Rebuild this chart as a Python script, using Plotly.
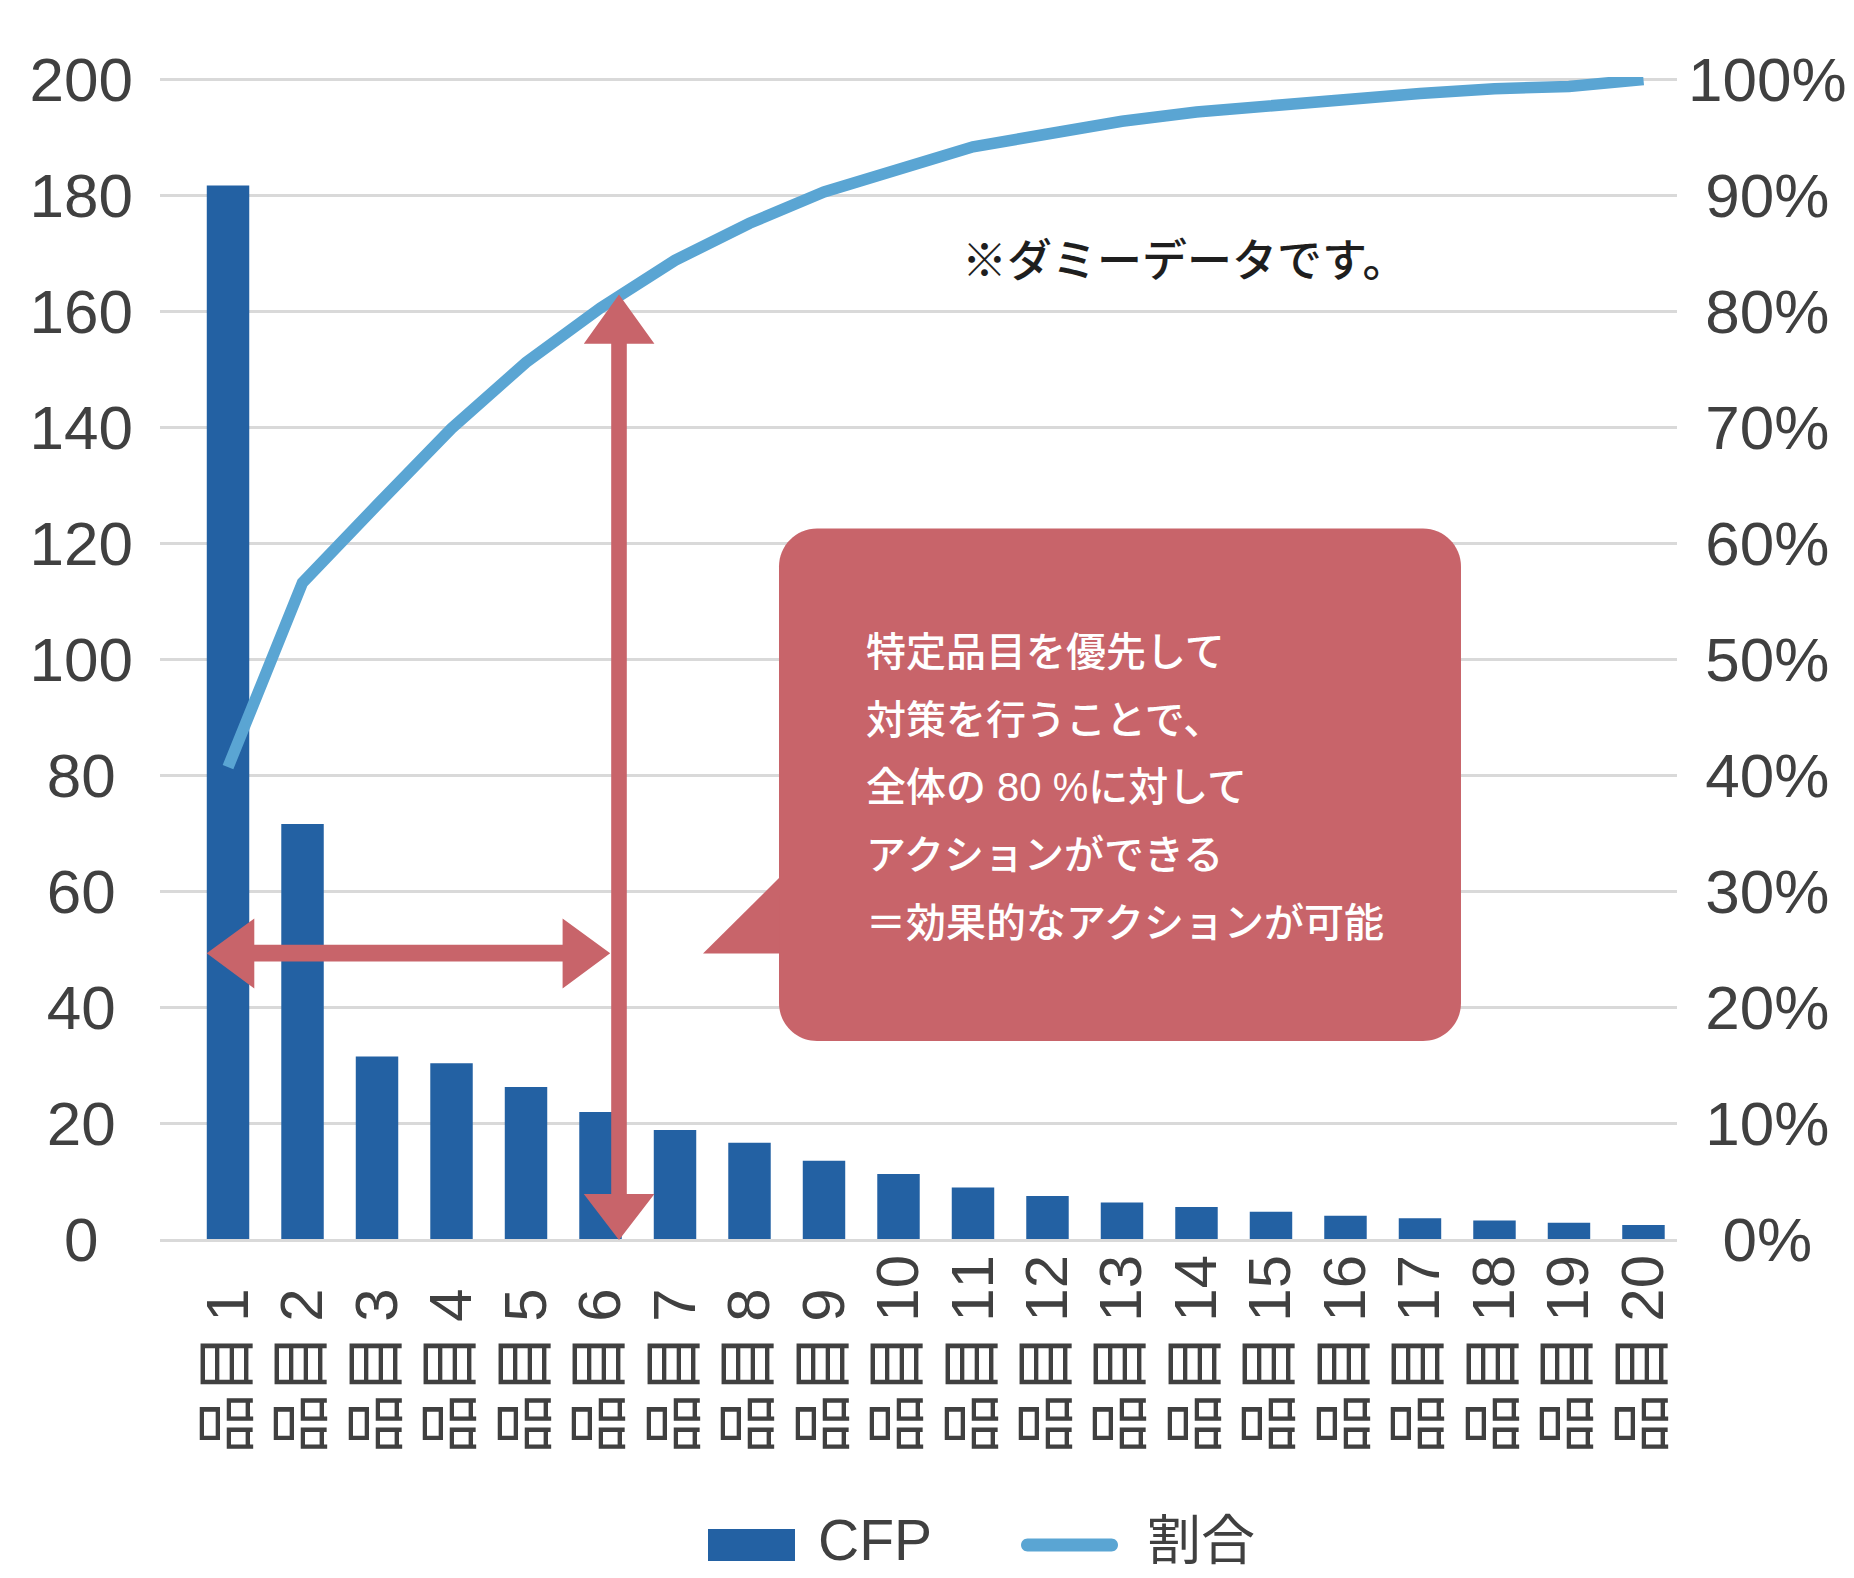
import plotly.graph_objects as go

# ---------------- data ----------------
categories = [f"品目{i}" for i in range(1, 21)]
cfp = [181.7, 71.6, 31.5, 30.3, 26.2, 21.9, 18.8, 16.6, 13.5, 11.2,
       8.9, 7.4, 6.3, 5.5, 4.7, 4.0, 3.6, 3.2, 2.8, 2.4]
ratio = [40.7, 56.6, 63.3, 69.9, 75.6, 80.3, 84.4, 87.6, 90.3, 92.2,
         94.2, 95.3, 96.4, 97.2, 97.8, 98.4, 98.8, 99.2, 99.4, 100.0]
y_ticks = list(range(0, 201, 20))
y2_ticks = list(range(0, 101, 10))
series_names = ["CFP", "割合"]
note_text = "※ダミーデータです。"
callout_lines = ["特定品目を優先して", "対策を行うことで、", "全体の 80 %に対して",
                 "アクションができる", "＝効果的なアクションが可能"]

# ---------------- style ----------------
W, H = 1854, 1578
PX_L, PX_R, PY_T, PY_B = 160, 1677, 77, 1239
Y0_PX, Y200_PX = 1239, 79.5
PX_PER_UNIT = (Y0_PX - Y200_PX) / 200.0
Y_TOP = 200 + (Y200_PX - PY_T) / PX_PER_UNIT
BAR_C = "#2361A3"
LINE_C = "#5AA5D3"
RED = "#C8646A"
GRID = "#D9D9D9"
TXT = "#404040"
FONT = "Liberation Sans, Arial, Noto Sans CJK JP, sans-serif"
JFONT = "Noto Sans CJK JP, sans-serif"
NB = "\u00a0"


def px(x):
    return (x - PX_L) / (PX_R - PX_L)


def py(y):
    return (PY_B - y) / (PY_B - PY_T)


def poly(points):
    return "M " + " L ".join(f"{px(x):.5f},{py(y):.5f}" for x, y in points) + " Z"


def rrect(x0, y0, x1, y1, r):
    k = 0.5523
    return (f"M {px(x0 + r):.5f},{py(y0):.5f} L {px(x1 - r):.5f},{py(y0):.5f} "
            f"C {px(x1 - r + r * k):.5f},{py(y0):.5f} {px(x1):.5f},{py(y0 + r - r * k):.5f} {px(x1):.5f},{py(y0 + r):.5f} "
            f"L {px(x1):.5f},{py(y1 - r):.5f} "
            f"C {px(x1):.5f},{py(y1 - r + r * k):.5f} {px(x1 - r + r * k):.5f},{py(y1):.5f} {px(x1 - r):.5f},{py(y1):.5f} "
            f"L {px(x0 + r):.5f},{py(y1):.5f} "
            f"C {px(x0 + r - r * k):.5f},{py(y1):.5f} {px(x0):.5f},{py(y1 - r + r * k):.5f} {px(x0):.5f},{py(y1 - r):.5f} "
            f"L {px(x0):.5f},{py(y0 + r):.5f} "
            f"C {px(x0):.5f},{py(y0 + r - r * k):.5f} {px(x0 + r - r * k):.5f},{py(y0):.5f} {px(x0 + r):.5f},{py(y0):.5f} Z")


def x_label(c):
    head, num = c[:2], c[2:]
    if num == "11":
        num = "1<span style='font-family:Liberation Sans'>1</span>"
    pad = "\u2007" if len(c) == 3 else ""
    return head + "\u2009" + num + pad


# tick texts (padding keeps labels visually centred / start-aligned like the reference)
x_tick_text = [x_label(c) for c in categories]
y_tick_text = [str(v) + NB * (3 - len(str(v))) for v in y_ticks]
y2_tick_text = [NB * (3 - len(str(v))) + f"{v}%" for v in y2_ticks]

fig = go.Figure()
fig.add_trace(go.Bar(x=categories, y=cfp, name=series_names[0], marker=dict(color=BAR_C, line=dict(width=0)),
                     yaxis="y", showlegend=False))
fig.add_trace(go.Scatter(x=categories, y=ratio, name=series_names[1], mode="lines",
                         line=dict(color=LINE_C, width=11.5), yaxis="y2", showlegend=False))

shapes = []
# vertical double arrow
shapes.append(dict(type="path", xref="paper", yref="paper", layer="above", fillcolor=RED, line=dict(width=0),
                   path=poly([(611.2, 343.75), (583.8, 343.75), (619, 294.6), (654.4, 343.75), (626.8, 343.75),
                              (626.8, 1194), (654.4, 1194), (619, 1240), (583.8, 1194), (611.2, 1194)])))
# horizontal double arrow
shapes.append(dict(type="path", xref="paper", yref="paper", layer="above", fillcolor=RED, line=dict(width=0),
                   path=poly([(206.7, 953.3), (254.3, 918.4), (254.3, 944.7), (562.6, 944.7), (562.6, 918.4),
                              (610.2, 953.3), (562.6, 988.4), (562.6, 961.5), (254.3, 961.5), (254.3, 988.4)])))
# callout box + pointer
shapes.append(dict(type="path", xref="paper", yref="paper", layer="above", fillcolor=RED, line=dict(width=0),
                   path=rrect(779, 528.5, 1461, 1041, 38)))
shapes.append(dict(type="path", xref="paper", yref="paper", layer="above", fillcolor=RED, line=dict(width=0),
                   path=poly([(703, 953.6), (780, 877), (780, 953.6)])))
# custom legend symbols
shapes.append(dict(type="rect", xref="paper", yref="paper", fillcolor=BAR_C, line=dict(width=0),
                   x0=px(708), x1=px(795), y0=py(1561), y1=py(1529)))
shapes.append(dict(type="path", xref="paper", yref="paper", fillcolor=LINE_C, line=dict(width=0),
                   path=rrect(1021, 1538.5, 1118, 1551.5, 6.5)))

annotations = []
annotations.append(dict(xref="paper", yref="paper", x=px(1185), y=py(257), text=note_text, showarrow=False,
                        xanchor="center", yanchor="middle",
                        font=dict(family=JFONT, size=45, color="#1e1e1e", weight=500)))
line_y = [652, 719.5, 787, 855, 923]
for t, yy in zip(callout_lines, line_y):
    annotations.append(dict(xref="paper", yref="paper", x=px(864), y=py(yy), text=t, showarrow=False,
                            xanchor="left", yanchor="middle",
                            font=dict(family="Liberation Sans, Noto Sans CJK JP, sans-serif", size=40,
                                      color="white", weight=500)))
annotations.append(dict(xref="paper", yref="paper", x=px(816), y=py(1540), text=series_names[0], showarrow=False,
                        xanchor="left", yanchor="middle", font=dict(family=FONT, size=57, color=TXT)))
annotations.append(dict(xref="paper", yref="paper", x=px(1145), y=py(1536), text=series_names[1], showarrow=False,
                        xanchor="left", yanchor="middle", font=dict(family=JFONT, size=54, color=TXT)))

fig.update_layout(
    width=W, height=H, autosize=False,
    margin=dict(l=PX_L, r=W - PX_R, t=PY_T, b=H - PY_B, pad=0, autoexpand=False),
    paper_bgcolor="white", plot_bgcolor="white",
    bargap=0.43,
    font=dict(family=FONT, color=TXT),
    xaxis=dict(type="category", range=[-0.913, 19.45], tickmode="array", tickvals=categories, ticktext=x_tick_text,
               tickangle=-90, tickfont=dict(family=FONT, size=60, color=TXT), ticks="", automargin=False,
               showline=True, linecolor=GRID, linewidth=3, showgrid=False, ticklabelstandoff=-11),
    yaxis=dict(range=[0, Y_TOP], tickmode="array", tickvals=y_ticks, ticktext=y_tick_text, ticks="",
               tickfont=dict(family=FONT, size=62, color=TXT), showgrid=True, gridcolor=GRID, gridwidth=2.5,
               zeroline=False, showline=False, ticklabelstandoff=26, automargin=False),
    yaxis2=dict(range=[0, Y_TOP / 2.0], overlaying="y", side="right", tickmode="array", tickvals=y2_ticks,
                ticktext=y2_tick_text, ticks="", tickfont=dict(family=FONT, size=62, color=TXT),
                showgrid=False, zeroline=False, showline=False, ticklabelstandoff=10, automargin=False),
    shapes=shapes, annotations=annotations,
)

fig.write_html("out.html", post_script="document.body.style.margin='0';",
               config={"displayModeBar": False})
